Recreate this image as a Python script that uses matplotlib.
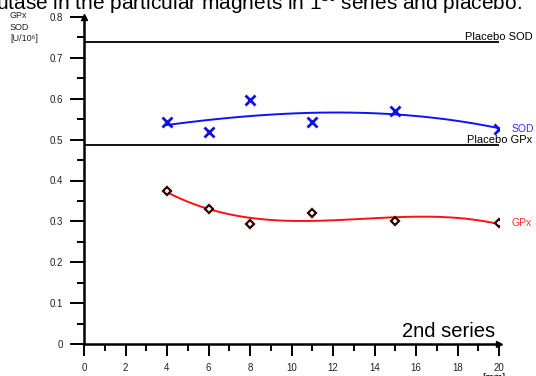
import numpy as np
import matplotlib
matplotlib.use("Agg")
import matplotlib.pyplot as plt

plt.rcParams["font.family"] = ["Liberation Sans", "DejaVu Sans"]

# values
days = [4, 6, 8, 11, 15, 20]
sod = [0.543, 0.518, 0.598, 0.542, 0.569, 0.527]
gpx = [0.374, 0.331, 0.294, 0.320, 0.301, 0.295]
placebo_sod = 0.738
placebo_gpx = 0.488
x_ticks = list(range(0, 21, 2))
y_ticks = [0, 0.1, 0.2, 0.3, 0.4, 0.5, 0.6, 0.7, 0.8]
y_tick_labels = ["0", "0.1", "0.2", "0.3", "0.4", "0.5", "0.6", "0.7", "0.8"]

fig = plt.figure(figsize=(5.36, 3.76), dpi=100)
ax = fig.add_axes([84 / 536, 32 / 376, 415 / 536, 327 / 376])

# trend curves (cubic fit, like the original software)
xs = np.linspace(min(days), max(days), 200)
ax.plot(xs, np.polyval(np.polyfit(days, sod, 3), xs), color="#1010ff", lw=1.4)
ax.plot(xs, np.polyval(np.polyfit(days, gpx, 3), xs), color="#ff1010", lw=1.4)

ax.plot(days, sod, ls="none", marker="x", ms=7, mew=2, color="#1010e0")
ax.plot(days, gpx, ls="none", marker="D", ms=4.5, mew=1.6,
        mfc="white", mec="#300000")

ax.plot([0, 20], [placebo_sod, placebo_sod], color="black", lw=1.3)
ax.plot([0, 20], [placebo_gpx, placebo_gpx], color="black", lw=1.3)

ax.set_xlim(0, 20)
ax.set_ylim(0, 0.8)
for s in ["top", "right"]:
    ax.spines[s].set_visible(False)
for s in ["left", "bottom"]:
    ax.spines[s].set_linewidth(1.8)

ax.set_xticks(x_ticks)
ax.set_xticks(range(1, 20, 2), minor=True)
ax.set_yticks(y_ticks)
ax.set_yticklabels(y_tick_labels)
ax.set_yticks([0.05 + 0.1 * i for i in range(8)], minor=True)
ax.tick_params(which="major", direction="out", length=8.5, width=1.4,
               labelsize=7, labelcolor="#222222")
ax.tick_params(which="minor", direction="out", length=5, width=1.4)
ax.tick_params(axis="y", which="major", length=10, pad=5)
ax.tick_params(axis="x", which="major", pad=5)

# arrows on axes
ax.plot(1, 0, ">k", ms=5, transform=ax.transAxes, clip_on=False)
ax.plot(0, 1, "^k", ms=5, transform=ax.transAxes, clip_on=False)

ax.text(21.6, placebo_sod, "Placebo SOD", fontsize=8, ha="right", va="bottom")
ax.text(21.6, placebo_gpx, "Placebo GPx", fontsize=8, ha="right", va="bottom")
ax.text(20.6, sod[-1], "SOD", fontsize=7.5, color="#3030ff", va="center")
ax.text(20.6, gpx[-1], "GPx", fontsize=7.5, color="#ff3030", va="center")
ax.text(19.8, 0.018, "2nd series", fontsize=14.5, ha="right", va="baseline")

fig.text(10 / 536, 1 - 27 / 376, "GPx\nSOD\n[U/10\u2076]", fontsize=6.5,
         ha="left", va="center", linespacing=1.3, color="#222222")
fig.text(494 / 536, -7 / 376, "[mm]", fontsize=7.5, ha="center", va="bottom")
fig.text(-4 / 536, 1 - 10 / 376,
         "utase in the particular magnets in 1$^{st}$ series and placebo.",
         fontsize=15, ha="left", va="baseline")

fig.savefig("out.png", dpi=100)
